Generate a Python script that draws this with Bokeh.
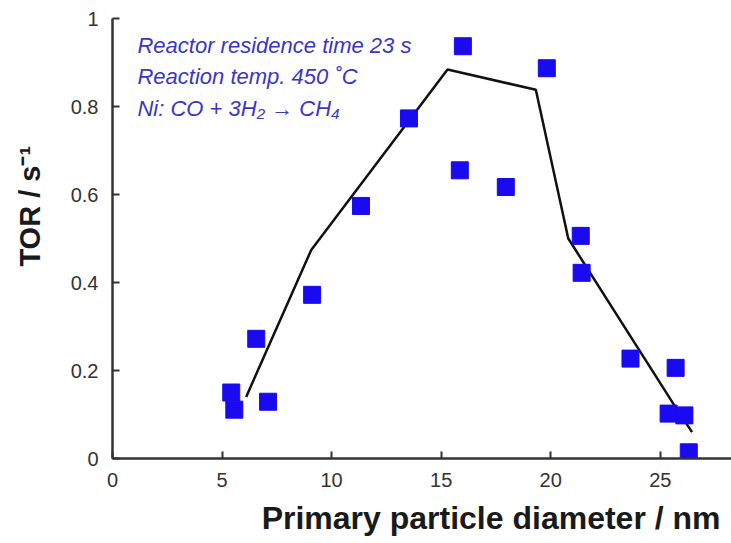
from bokeh.plotting import figure
from bokeh.models import Range1d, FixedTicker, Label, Title
from bokeh.embed import file_html
from bokeh.resources import INLINE

# measured data points (primary particle diameter / nm, TOR / s^-1)
diam = [5.42, 5.56, 6.56, 7.10, 9.11, 11.34, 13.53, 15.99, 15.85, 17.95,
        19.82, 21.37, 21.41, 23.64, 25.38, 25.70, 26.10, 26.30]
tor = [0.150, 0.111, 0.272, 0.129, 0.372, 0.574, 0.773, 0.937, 0.655, 0.617,
       0.887, 0.506, 0.422, 0.227, 0.102, 0.206, 0.098, 0.014]

# trend line
line_x = [6.10, 9.07, 15.29, 19.32, 20.80, 25.65, 26.45]
line_y = [0.140, 0.474, 0.884, 0.838, 0.500, 0.120, 0.060]

x_ticks = [0, 5, 10, 15, 20, 25]
y_ticks = [0, 0.2, 0.4, 0.6, 0.8, 1]
y_tick_labels = ["0", "0.2", "0.4", "0.6", "0.8", "1"]

notes = ["Reactor residence time 23 s", "Reaction temp. 450 \u02daC",
         "Ni: CO + 3H\u2082 \u2192 CH\u2084"]

p = figure(width=731, height=543, output_backend="svg", toolbar_location=None,
           x_range=Range1d(0, 28.25), y_range=Range1d(0, 1),
           min_border_left=112, min_border_top=18, min_border_bottom=84,
           min_border_right=0)
p.outline_line_color = None
p.xgrid.visible = False
p.ygrid.visible = False
p.background_fill_color = "white"

p.line(line_x, line_y, line_color="#111111", line_width=2.5)
p.scatter(diam, tor, marker="square", size=17, fill_color="#1a0af0",
          line_color="#1a0af0")

FONT = "Liberation Sans"
for ax in (p.xaxis[0], p.yaxis[0]):
    ax.axis_line_color = "#333333"
    ax.axis_line_width = 2.5
    ax.major_tick_line_color = "#333333"
    ax.major_tick_line_width = 2
    ax.major_tick_in = 7
    ax.major_tick_out = 0
    ax.minor_tick_line_color = None
    ax.major_label_text_font = FONT
    ax.major_label_text_font_size = "20px"
    ax.major_label_text_color = "#333333"
    ax.axis_label_text_font = FONT
    ax.axis_label_text_font_style = "bold"
    ax.axis_label_text_color = "#1a1a1a"

p.xaxis.ticker = FixedTicker(ticks=x_ticks)
p.yaxis.ticker = FixedTicker(ticks=y_ticks)
p.yaxis.major_label_overrides = {t: s for t, s in zip(y_ticks, y_tick_labels)}
p.xaxis.major_label_standoff = 14
p.yaxis.major_label_standoff = 14

# y title: leading no-break spaces shift it upward as in the original
p.yaxis.axis_label = "\u00a0" * 8 + "TOR / s\u207b\u00b9"
p.yaxis.axis_label_text_font_size = "29px"
p.yaxis.axis_label_standoff = 22

xt = Title(text="Primary particle diameter / nm", align="right", offset=11,
           text_font=FONT, text_font_style="bold", text_font_size="32px",
           text_color="#1a1a1a")
if "standoff" in Title.properties():
    xt.standoff = 16
p.add_layout(xt, "below")

for i, t in enumerate(notes):
    p.add_layout(Label(x=1.14, y=0.939 - i * 0.0715, text=t,
                       text_font=FONT, text_font_style="italic",
                       text_font_size="22px", text_color="#3a36c8",
                       text_baseline="middle"))

open("out.html", "w").write(file_html(p, INLINE))
